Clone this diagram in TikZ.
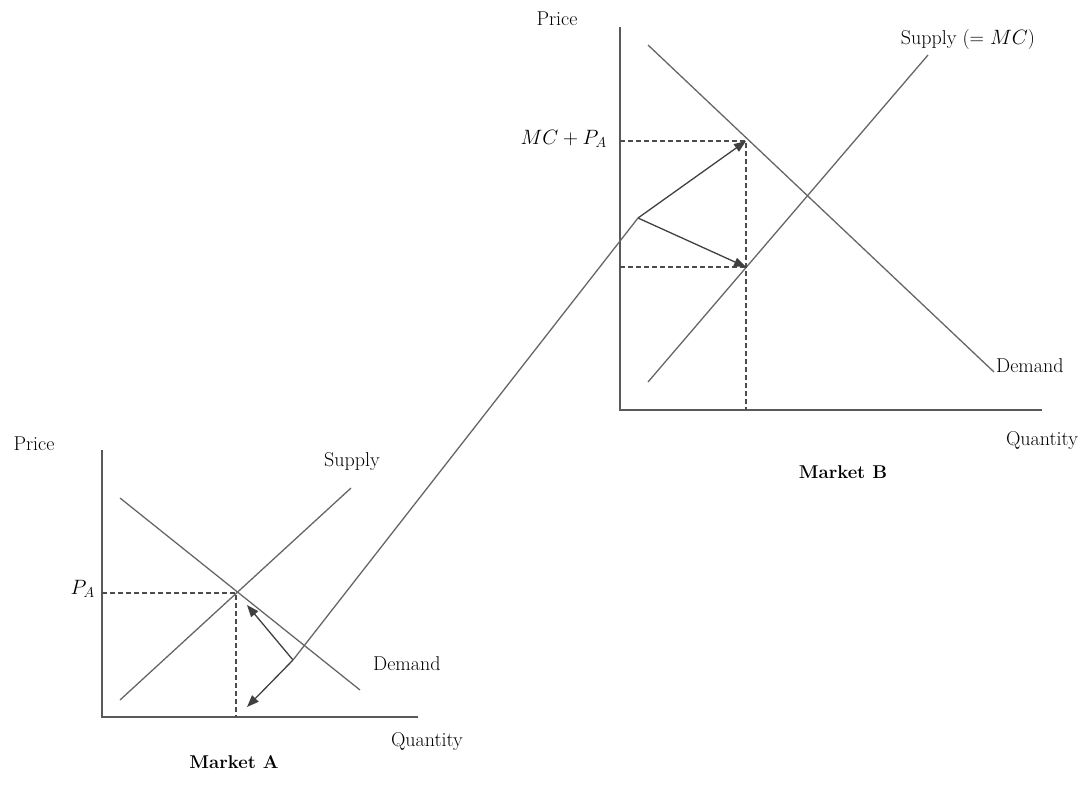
\documentclass[tikz,border=0pt]{standalone}
\usetikzlibrary{arrows.meta}
\begin{document}
\begin{tikzpicture}[x=1pt,y=-1pt,
  lbl/.style={inner sep=0pt,font=\fontsize{20}{24}\selectfont},
  mlbl/.style={inner sep=0pt,font=\fontsize{18.5}{22}\selectfont\bfseries},
  axis/.style={draw=black!65,line width=1.6pt},
  curve/.style={draw=black!60,line width=1.3pt},
  guide/.style={draw=black!70,line width=1.2pt,dash pattern=on 5pt off 3pt},
  arr/.style={draw=black!75,line width=1.3pt,-{Triangle[length=12pt,width=9pt]}}]
\useasboundingbox (0,0) rectangle (1082,796);
% ---------- Market A ----------
\coordinate (aO) at (102,717);
\coordinate (aY) at (102,450);
\coordinate (aX) at (418,717);
\draw[axis] (aY) -- (aO) -- (aX);
\coordinate (dA1) at (120,498);
\coordinate (dA2) at (360,690);
\coordinate (sA1) at (120,700);
\coordinate (sA2) at (351,488);
\draw[curve] (dA1) -- (dA2);
\draw[curve] (sA1) -- (sA2);
\coordinate (eA) at (236,593);
\coordinate (pA) at (102,593);
\coordinate (qA) at (236,717);
\draw[guide] (pA) -- (eA) -- (qA);
\coordinate (kA) at (293,660);
\coordinate (tA1) at (247,605);
\coordinate (tA2) at (247,707);
\draw[arr] (kA) -- (tA1);
\draw[arr] (kA) -- (tA2);
\node[lbl] (priceA) at (34,444) {Price};
\node[lbl] (supA) at (352,462) {Supply};
\node[lbl,anchor=west] (demA) at (373,664) {Demand};
\node[lbl] (qtyA) at (427,742) {Quantity};
\node[mlbl] (mktA) at (234,762) {Market A};
\node[lbl,anchor=east] (PA) at (95,589) {$P_A$};
% ---------- Market B ----------
\coordinate (bO) at (620,410);
\coordinate (bY) at (620,27);
\coordinate (bX) at (1042,410);
\draw[axis] (bY) -- (bO) -- (bX);
\coordinate (dB1) at (648,45);
\coordinate (dB2) at (994,372);
\coordinate (sB1) at (648,382);
\coordinate (sB2) at (928,55);
\draw[curve] (dB1) -- (dB2);
\draw[curve] (sB1) -- (sB2);
\coordinate (hB) at (746,141);
\coordinate (lB) at (746,267);
\coordinate (phB) at (620,141);
\coordinate (plB) at (620,267);
\coordinate (qB) at (746,410);
\draw[guide] (phB) -- (hB) -- (qB);
\draw[guide] (plB) -- (lB);
\coordinate (kB) at (638,218);
\draw[arr] (kB) -- (hB);
\draw[arr] (kB) -- (lB);
\draw[curve] (kA) -- (kB);
\node[lbl] (priceB) at (557,19) {Price};
\node[lbl] (supB) at (968,40) {Supply (= $MC$)};
\node[lbl,anchor=west] (demB) at (996,366) {Demand};
\node[lbl] (qtyB) at (1042,441) {Quantity};
\node[mlbl] (mktB) at (843,472) {Market B};
\node[lbl,anchor=east] (MCPA) at (607,139) {$MC+P_A$};
\end{tikzpicture}
\end{document}
